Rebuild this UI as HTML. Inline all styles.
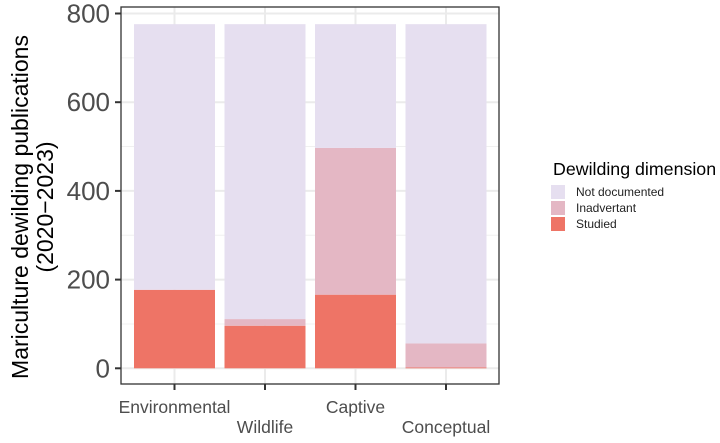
<!DOCTYPE html>
<html><head><meta charset="utf-8"><style>
body{margin:0;background:#fff;font-family:"Liberation Sans",Arial,sans-serif}
</style></head><body>
<svg id="chart" width="720" height="438" xmlns="http://www.w3.org/2000/svg" font-family="Liberation Sans, Arial, sans-serif">
<g id="grid"></g>
<g id="bars"></g>
<g id="axes"></g>
<g font-size="23" fill="#000" text-anchor="middle">
<text transform="translate(28,207) rotate(-90)">Mariculture dewilding publications</text>
<text transform="translate(53,207) rotate(-90)">(2020−2023)</text>
</g>
<g>
<text x="553" y="175" font-size="17.8" fill="#000">Dewilding dimension</text>
<rect x="551" y="185" width="14" height="14" fill="#e6dff0"/>
<text x="576" y="196" font-size="12" fill="#222">Not documented</text>
<rect x="551" y="201" width="14" height="14" fill="#e4b7c4"/>
<text x="576" y="212" font-size="12" fill="#222">Inadvertant</text>
<rect x="551" y="217" width="14" height="14" fill="#ee7466"/>
<text x="576" y="228" font-size="12" fill="#222">Studied</text>
</g>
</svg>
<script>
const categories=["Environmental","Wildlife","Captive","Conceptual"];
const studied=[177,96,166,2];
const inadvertant=[0,15,331,54];
const notDocumented=[599,665,279,720];
const yTicks=[0,200,400,600,800];
const colors={nd:"#e6dff0",in:"#e4b7c4",st:"#ee7466"};
const NS="http://www.w3.org/2000/svg";
const L=121,R=499,T=7,B=384,y0=368.3,pxPer=0.4435,step=90.5,bw=81;
function y(v){return y0-v*pxPer;}
function cx(i){return 174.5+i*step;}
function mk(tag,attrs,parent){const e=document.createElementNS(NS,tag);for(const k in attrs)e.setAttribute(k,attrs[k]);parent.appendChild(e);return e;}
const grid=document.getElementById('grid'),bars=document.getElementById('bars'),axes=document.getElementById('axes');
mk('rect',{x:L,y:T,width:R-L,height:B-T,fill:'#fff'},grid);
for(let v=100;v<=800;v+=200){const l=mk('line',{x1:L,x2:R,y1:y(v),y2:y(v),stroke:'#f0f0f0','stroke-width':1},grid);

}
yTicks.forEach(v=>{const l=mk('line',{x1:L,x2:R,y1:y(v),y2:y(v),stroke:'#ebebeb','stroke-width':2},grid);

});
categories.forEach((c,i)=>{const l=mk('line',{x1:cx(i),x2:cx(i),y1:T,y2:B,stroke:'#ebebeb','stroke-width':2},grid);

});
categories.forEach((c,i)=>{
 const segs=[[studied[i],0,colors.st,'studied'],[inadvertant[i],studied[i],colors.in,'inadvertant'],[notDocumented[i],studied[i]+inadvertant[i],colors.nd,'not-documented']];
 segs.forEach(s=>{const r=mk('rect',{x:cx(i)-bw/2,y:y(s[1]+s[0]),width:bw,height:s[0]*pxPer,fill:s[2]},bars);
 
 });
});
const border=mk('rect',{x:L,y:T,width:R-L,height:B-T,fill:'none',stroke:'#333','stroke-width':1.3},axes);


yTicks.forEach(v=>{const t=mk('line',{x1:L-6,x2:L,y1:y(v),y2:y(v),stroke:'#333','stroke-width':2},axes);


const tx=mk('text',{x:L-11,y:y(v)+9,'font-size':26,'text-anchor':'end',fill:'#4d4d4d'},axes);tx.textContent=v;

});
categories.forEach((c,i)=>{const t=mk('line',{x1:cx(i),x2:cx(i),y1:B,y2:B+6,stroke:'#333','stroke-width':2},axes);


const tx=mk('text',{x:cx(i),y:i%2?433:413,'font-size':17.5,'text-anchor':'middle',fill:'#4d4d4d'},axes);tx.textContent=c;

});
</script>
</body></html>
